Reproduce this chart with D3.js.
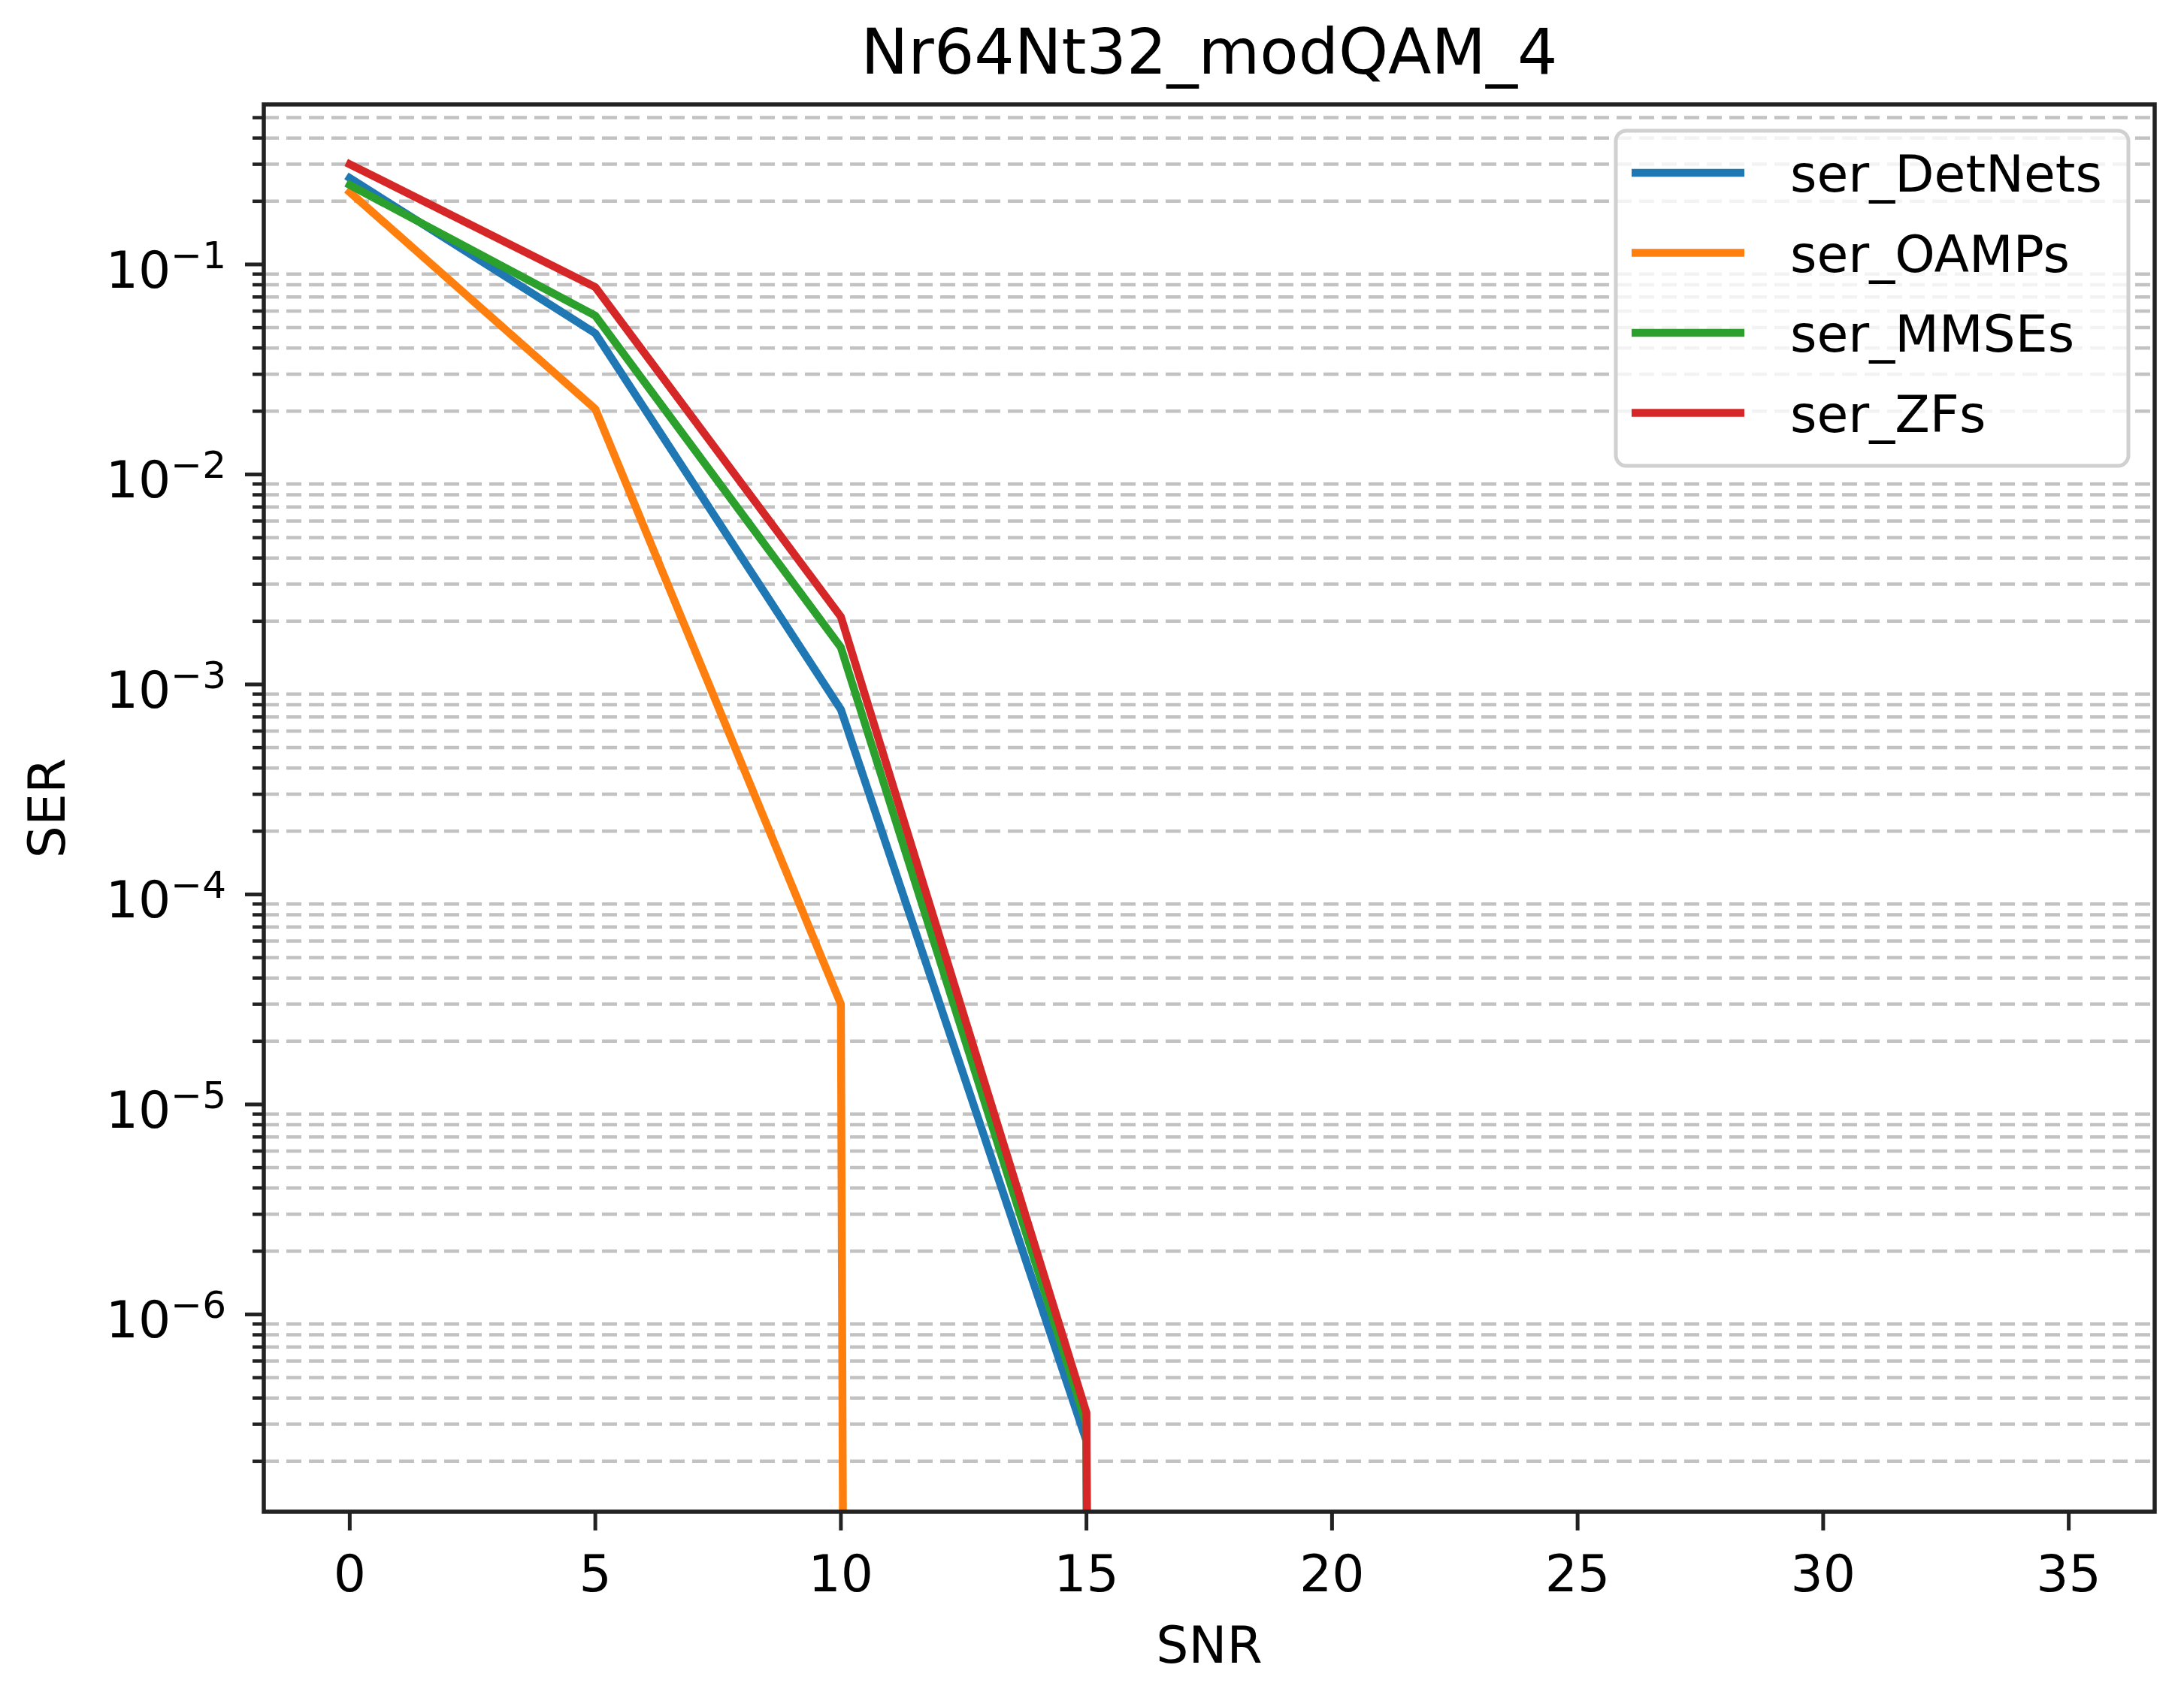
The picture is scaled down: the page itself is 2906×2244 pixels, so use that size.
<!DOCTYPE html>
<html>
<head>
<meta charset="utf-8">
<script src="https://cdn.jsdelivr.net/npm/d3@7"></script>
<style>
  body { margin: 0; background: #fff; }
  text { font-family: "DejaVu Sans", sans-serif; fill: #000; }
</style>
</head>
<body>
<svg id="chart" width="2906" height="2244"></svg>
<script>
// data
var snr = [0, 5, 10, 15, 20, 25, 30, 35]
var serDetNets = [0.258, 0.047, 7.6e-4, 2.5e-7, 0, 0, 0, 0]
var serOAMPs   = [0.221, 0.0205, 3.0e-5, 0, 0, 0, 0, 0]
var serMMSEs   = [0.239, 0.057, 1.5e-3, 3.0e-7, 0, 0, 0, 0]
var serZFs     = [0.300, 0.078, 2.1e-3, 3.4e-7, 0, 0, 0, 0]
var seriesNames = ['ser_DetNets', 'ser_OAMPs', 'ser_MMSEs', 'ser_ZFs']
var seriesColors = ['#1f77b4', '#ff7f0e', '#2ca02c', '#d62728']
var xTicks = [0, 5, 10, 15, 20, 25, 30, 35]
var yDomain = [1.15e-7, 0.578]
var xDomain = [-1.75, 36.75]

// plot box (window.top is reserved, so use other names)
var pLeft = 351, pRight = 2867, pTop = 139, pBottom = 2012
var fs = 68

var svg = d3.select('#chart')
var x = d3.scaleLinear().domain(xDomain).range([pLeft, pRight])
var y = d3.scaleLog().domain(yDomain).range([pBottom, pTop])

svg.append('defs').append('clipPath').attr('id', 'plotclip')
  .append('rect').attr('x', pLeft).attr('y', pTop).attr('width', pRight - pLeft).attr('height', pBottom - pTop)

// minor grid + ticks
var allTicks = y.ticks(100).filter(function(t){ return t >= yDomain[0] && t <= yDomain[1] })
var isMajor = function(t){ return Math.abs(Math.log10(t) - Math.round(Math.log10(t))) < 1e-6 }
var minorTicks = allTicks.filter(function(t){ return !isMajor(t) })
var majorTicks = allTicks.filter(isMajor)

svg.append('g').selectAll('line').data(minorTicks).enter().append('line')
  .attr('x1', pLeft).attr('x2', pRight)
  .attr('y1', function(d){ return y(d) }).attr('y2', function(d){ return y(d) })
  .attr('stroke', '#c2c2c2').attr('stroke-width', 4.5).attr('stroke-dasharray', '20,10')

svg.append('g').selectAll('line').data(minorTicks).enter().append('line')
  .attr('x1', pLeft - 15).attr('x2', pLeft)
  .attr('y1', function(d){ return y(d) }).attr('y2', function(d){ return y(d) })
  .attr('stroke', '#222').attr('stroke-width', 4.5)

svg.append('g').selectAll('line').data(majorTicks).enter().append('line')
  .attr('x1', pLeft - 25).attr('x2', pLeft)
  .attr('y1', function(d){ return y(d) }).attr('y2', function(d){ return y(d) })
  .attr('stroke', '#222').attr('stroke-width', 5)

var ylab = svg.append('g').selectAll('text').data(majorTicks).enter().append('text')
  .attr('x', pLeft - 50).attr('y', function(d){ return y(d) + 31 })
  .attr('text-anchor', 'end').style('font-size', fs + 'px')
ylab.append('tspan').text('10')
ylab.append('tspan').attr('dy', -26).style('font-size', '50px')
  .text(function(d){ return '\u2212' + Math.round(-Math.log10(d)) })

// x ticks
svg.append('g').selectAll('line').data(xTicks).enter().append('line')
  .attr('x1', function(d){ return x(d) }).attr('x2', function(d){ return x(d) })
  .attr('y1', pBottom).attr('y2', pBottom + 25)
  .attr('stroke', '#222').attr('stroke-width', 5)

svg.append('g').selectAll('text').data(xTicks).enter().append('text')
  .attr('x', function(d){ return x(d) }).attr('y', 2118)
  .attr('text-anchor', 'middle').style('font-size', fs + 'px')
  .text(function(d){ return d })

// lines: zeros are clipped to a tiny value like a log axis does, so they drop straight down
var allSeries = [serDetNets, serOAMPs, serMMSEs, serZFs]
var line = d3.line()
  .x(function(d, i){ return x(snr[i]) })
  .y(function(d){ return y(d > 0 ? d : 1e-300) })

svg.append('g').attr('clip-path', 'url(#plotclip)')
  .selectAll('path').data(allSeries).enter().append('path')
  .attr('d', line)
  .attr('fill', 'none')
  .attr('stroke', function(d, i){ return seriesColors[i] })
  .attr('stroke-width', 10.5)
  .attr('stroke-linejoin', 'round')
  .attr('stroke-linecap', 'square')

// frame
svg.append('rect').attr('x', pLeft).attr('y', pTop).attr('width', pRight - pLeft).attr('height', pBottom - pTop)
  .attr('fill', 'none').attr('stroke', '#222').attr('stroke-width', 5.5)

// legend
var lg = svg.append('g')
lg.append('rect').attr('x', 2150).attr('y', 174).attr('width', 682).attr('height', 446)
  .attr('rx', 14).attr('fill', '#fff').attr('fill-opacity', 0.8)
  .attr('stroke', '#d0d0d0').attr('stroke-width', 5)
var items = lg.selectAll('g.item').data(seriesNames).enter().append('g').attr('class', 'item')
  .attr('transform', function(d, i){ return 'translate(0,' + (230 + i * 106.5) + ')' })
items.append('line').attr('x1', 2171).attr('x2', 2321).attr('y1', 0).attr('y2', 0)
  .attr('stroke', function(d, i){ return seriesColors[i] }).attr('stroke-width', 10.5)
items.append('text').attr('x', 2382).attr('y', 25).style('font-size', fs + 'px').text(function(d){ return d })

// title and axis labels
svg.append('text').attr('x', (pLeft + pRight) / 2).attr('y', 98).attr('text-anchor', 'middle')
  .style('font-size', '84px').text('Nr64Nt32_modQAM_4')
svg.append('text').attr('x', (pLeft + pRight) / 2).attr('y', 2213).attr('text-anchor', 'middle')
  .style('font-size', fs + 'px').text('SNR')
svg.append('text').attr('transform', 'translate(86,' + ((pTop + pBottom) / 2) + ') rotate(-90)')
  .attr('text-anchor', 'middle').style('font-size', fs + 'px').text('SER')
</script>
</body>
</html>
